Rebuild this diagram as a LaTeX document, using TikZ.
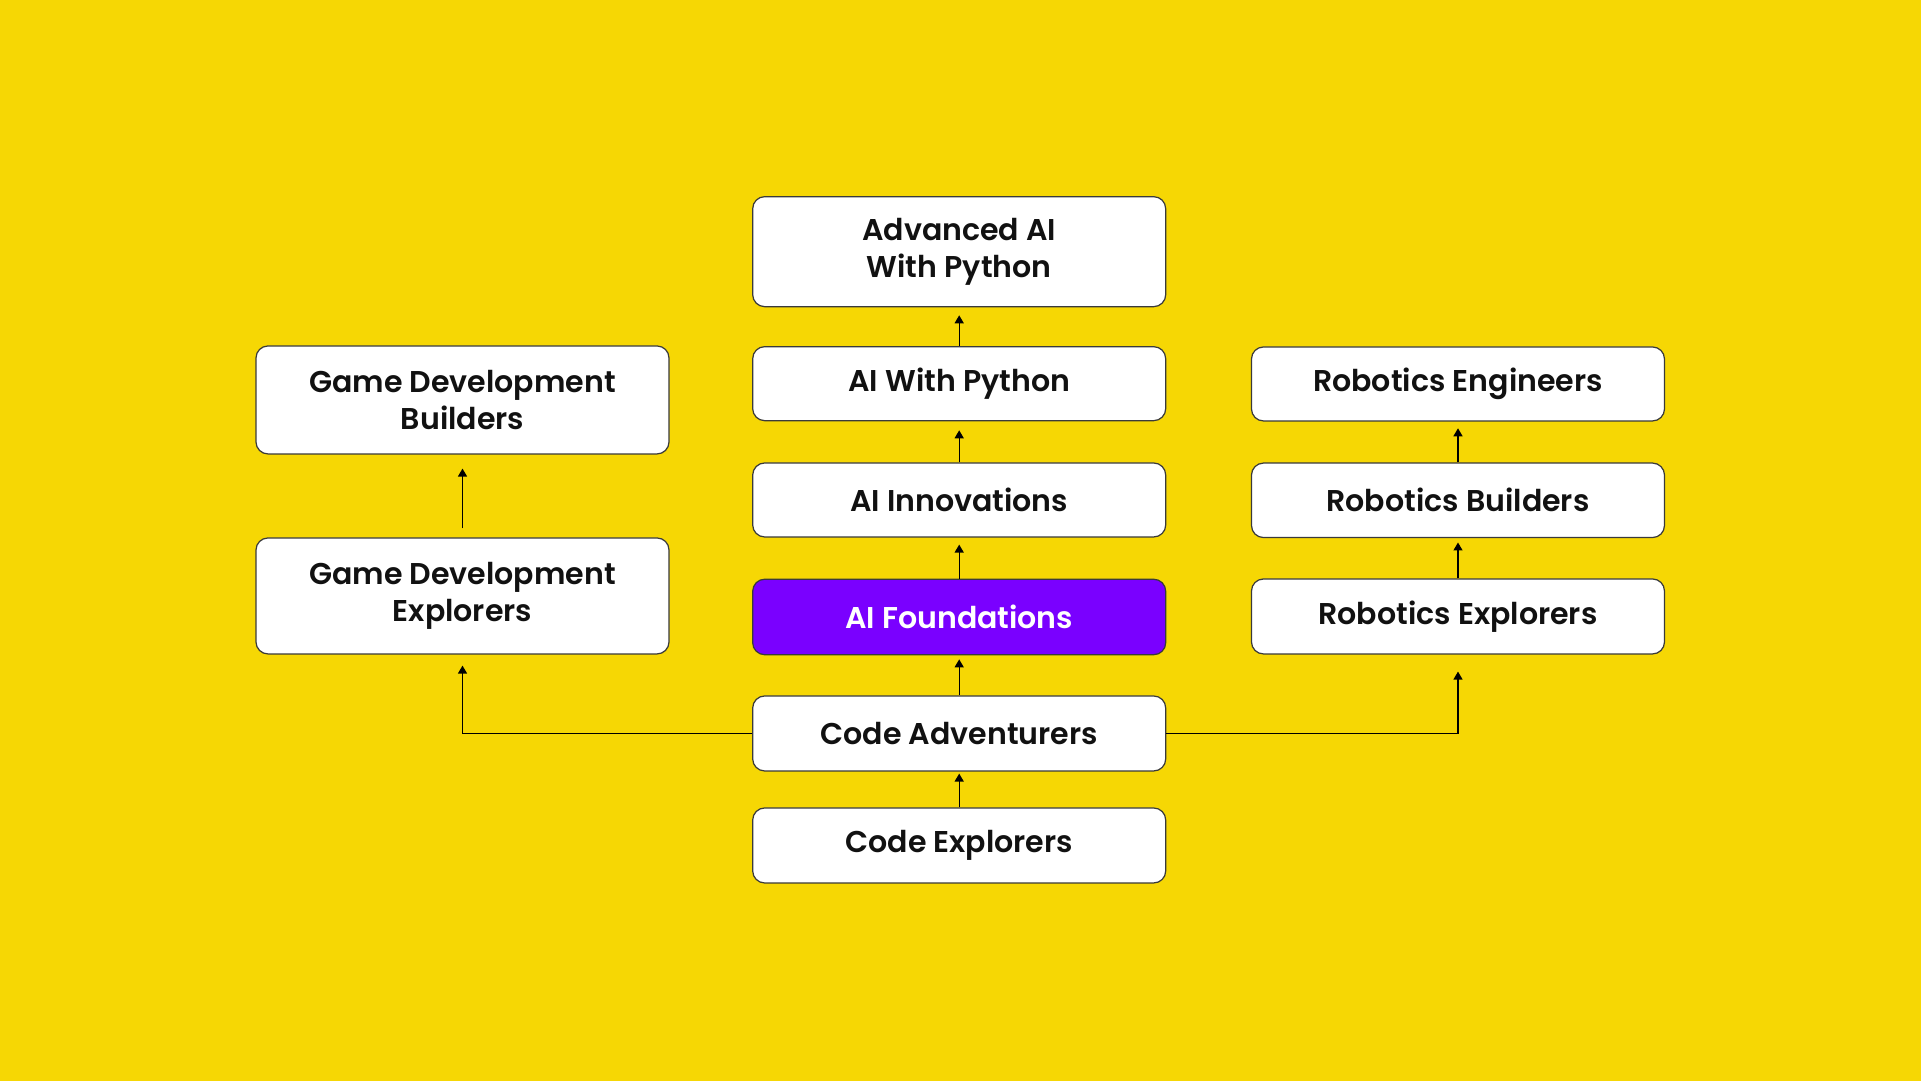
\documentclass[tikz,border=0pt]{standalone}
\usepackage{fontspec}
\setmainfont{Poppins}[BoldFont={Poppins SemiBold}]
\usetikzlibrary{arrows.meta}
\definecolor{bgyellow}{HTML}{F6D704}
\definecolor{boxborder}{HTML}{3A3A3A}
\definecolor{aipurple}{HTML}{7A00FF}
\definecolor{txt}{HTML}{111111}
\tikzset{
  course/.style={draw=boxborder, line width=0.35pt, fill=white, rounded corners=0.12cm,
    minimum width=4.13cm, align=center, text=txt,
    font=\fontsize{8.55pt}{10.5pt}\selectfont\bfseries, inner sep=0pt},
  featured/.style={course, fill=aipurple, text=white},
  link/.style={line width=0.38pt, draw=black, -{Triangle[width=0.09cm,length=0.08cm]}}
}
\begin{document}
\begin{tikzpicture}
\fill[bgyellow] (0,0) rectangle (19.21,10.81);
\useasboundingbox (0,0) rectangle (19.21,10.81);
% centre column
\node[course, minimum height=1.10cm] (adv) at (9.592,8.293) {Advanced AI\\With Python};
\node[course, minimum height=0.74cm] (aipy) at (9.592,6.973) {AI With Python};
\node[course, minimum height=0.74cm] (aiinn) at (9.592,5.81) {AI Innovations};
\node[featured, minimum height=0.755cm] (aif) at (9.592,4.64) {AI Foundations};
\node[course, minimum height=0.75cm] (cadv) at (9.592,3.475) {Code Adventurers};
\node[course, minimum height=0.75cm] (cexp) at (9.592,2.355) {Code Explorers};
% game development
\node[course, minimum height=1.08cm] (gdb) at (4.625,6.81) {Game Development\\Builders};
\node[course, minimum height=1.16cm] (gde) at (4.625,4.85) {Game Development\\Explorers};
% robotics
\node[course, minimum height=0.74cm] (roe) at (14.58,6.97) {Robotics Engineers};
\node[course, minimum height=0.745cm] (rob) at (14.58,5.8065) {Robotics Builders};
\node[course, minimum height=0.75cm] (rox) at (14.58,4.645) {Robotics Explorers};
% connectors
\draw[link, shorten >=0.08cm] (aipy.north) -- (adv.south);
\draw[link, shorten >=0.09cm] (aiinn.north) -- (aipy.south);
\draw[link, shorten >=0.07cm] (aif.north) -- (aiinn.south);
\draw[link, shorten >=0.04cm] (cadv.north) -- (aif.south);
\draw[link, shorten >=0.02cm] (cexp.north) -- (cadv.south);
\draw[link, shorten <=0.09cm, shorten >=0.14cm] (gde.north) -- (gdb.south);
\draw[link, shorten >=0.067cm] (rob.north) -- (roe.south);
\draw[link, shorten >=0.043cm] (rox.north) -- (rob.south);
\draw[link, shorten >=0.11cm] (cadv.west) -| (gde.south);
\draw[link, shorten >=0.17cm] (cadv.east) -| (rox.south);
\end{tikzpicture}
\end{document}
